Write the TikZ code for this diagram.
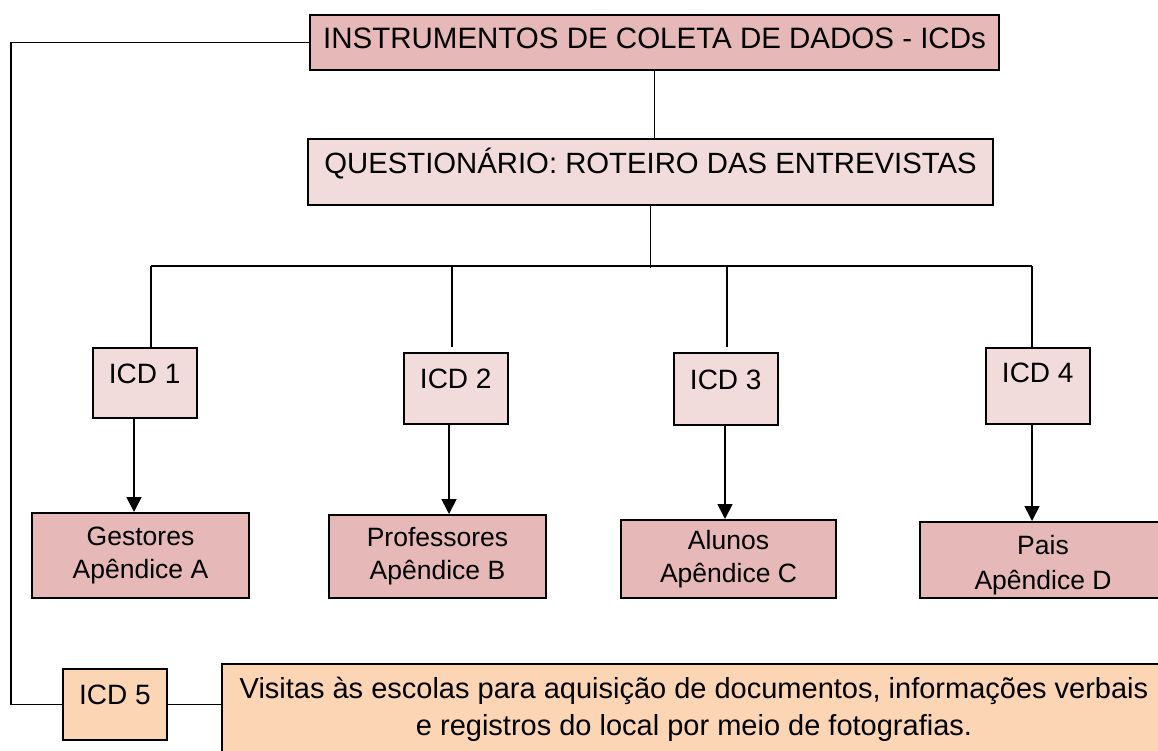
\documentclass[tikz,border=0pt]{standalone}
\usepackage{fontspec}
\setmainfont{Liberation Sans}
\usetikzlibrary{arrows.meta}
\definecolor{rosaEscuro}{HTML}{E6B8B7}
\definecolor{rosaClaro}{HTML}{F2DCDB}
\definecolor{pessego}{HTML}{FCD5B5}

\begin{document}
\begin{tikzpicture}[x = 1pt, y = -1pt,
    caixa/.style = {draw, line width = 2pt, anchor = north west, inner sep = 0pt, align = center},
    linha/.style = {line width = 1.7pt},
    seta/.style = {-{Triangle[width = 15pt, length = 15pt]}, line width = 1.7pt}]
    % Moldura
    \useasboundingbox (0,0) rectangle (1158,751);
    \clip (0,0) rectangle (1158,751);
    % Caixa dos ICDs
    \node[caixa, fill = rosaEscuro, minimum width = 689pt, text height = 34pt, text depth = 21pt,
        font = \fontsize{29.5}{35}\selectfont] (icds) at (309,14) {INSTRUMENTOS DE COLETA DE DADOS - ICDs};
    % Questionario
    \node[caixa, fill = rosaClaro, minimum width = 685pt, text height = 35pt, text depth = 31pt,
        font = \fontsize{29.3}{35}\selectfont] (questionario) at (307,138) {QUESTIONÁRIO: ROTEIRO DAS ENTREVISTAS};
    % ICD 1 a ICD 4
    \foreach \n/\x/\y/\a/\d in {1/92/347/35/35, 2/403/352/35/36, 3/673/352/36/36, 4/985/347/34/42}
        \node[caixa, fill = rosaClaro, minimum width = 103.5pt, text height = \a pt, text depth = \d pt,
            font = \fontsize{28}{34}\selectfont] (icd\n) at (\x,\y) {ICD \n};
    % Apendices
    \node[caixa, fill = rosaEscuro, minimum width = 217pt, minimum height = 85pt,
        font = \fontsize{26.5}{33}\selectfont] (gestores) at (31,512) {Gestores\\Apêndice A};
    \node[caixa, fill = rosaEscuro, minimum width = 217pt, minimum height = 83pt,
        font = \fontsize{26.5}{33}\selectfont] (professores) at (328,514) {Professores\\Apêndice B};
    \node[caixa, fill = rosaEscuro, minimum width = 215pt, minimum height = 78pt,
        font = \fontsize{26.5}{33}\selectfont] (alunos) at (620,519) {Alunos\\Apêndice C};
    \node[caixa, fill = rosaEscuro, minimum width = 246pt, text height = 67pt, text depth = 9pt,
        font = \fontsize{26.5}{35}\selectfont] (pais) at (919,521) {Pais\\Apêndice D};
    % ICD 5 e visitas
    \node[caixa, fill = pessego, minimum width = 104pt, text height = 35pt, text depth = 36pt,
        font = \fontsize{28}{34}\selectfont] (icd5) at (62,668) {ICD 5};
    \node[caixa, fill = pessego, minimum width = 944pt, inner ysep = 13pt,
        font = \fontsize{29}{37}\selectfont] (visitas) at (221,663)
        {Visitas às escolas para aquisição de documentos, informações verbais\\e registros do local por meio de fotografias.};
    % Ligacoes
    \coordinate (canto) at (11,0);
    \draw[linha] (icds.west) -- (icds.west -| canto) |- (icd5.west);
    \draw[linha] (icd5.east) -- (visitas.west |- icd5.east);
    \draw[linha] (icds.south) -- (icds.south |- questionario.north);
    \draw[linha] (questionario.south) -- ++(0,62) coordinate (meio);
    \coordinate (ramoEsq) at (151,266);
    \coordinate (ramoDir) at (1032,266);
    \draw[linha] (ramoEsq) -- (ramoDir);
    \foreach \x in {151, 452, 727, 1032}
        \draw[linha] (\x,266) -- (\x,347);
    % Setas
    \draw[seta] (icd1.south -| 134,0) -- (gestores.north -| 134,0);
    \draw[seta] (icd2.south -| 449,0) -- (professores.north -| 449,0);
    \draw[seta] (icd3.south -| 725,0) -- (alunos.north -| 725,0);
    \draw[seta] (icd4.south -| 1032,0) -- (pais.north -| 1032,0);
\end{tikzpicture}
\end{document}
